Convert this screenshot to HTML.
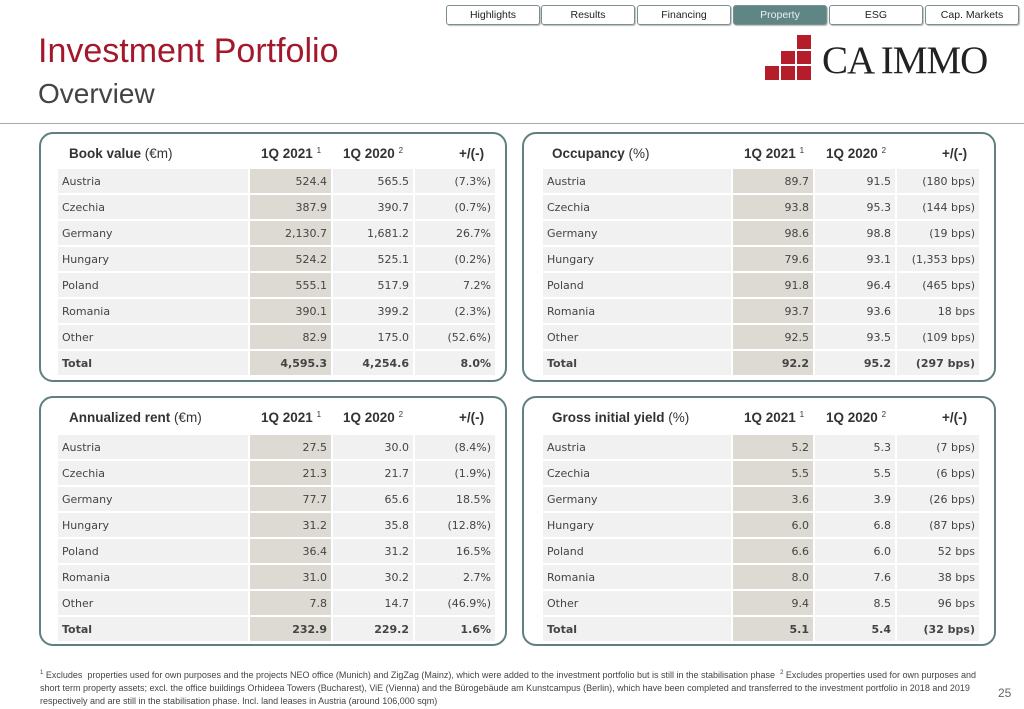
<!DOCTYPE html>
<html><head><meta charset="utf-8"><style>
body{margin:0;width:1024px;height:709px;background:#fff;position:relative;overflow:hidden;font-family:"Liberation Sans",sans-serif;}
.tab{position:absolute;top:5px;height:18px;border:1px solid #7a8f8f;border-radius:3px;font-family:"Liberation Sans Narrow","Liberation Sans",sans-serif;font-size:10.5px;text-align:center;line-height:18px;color:#222;background:#fff;box-shadow:1px 1px 1px #bbb}
.tab.a{background:#5f8585;color:#e8f0f0}
.panel{position:absolute;width:468px;height:250px;border:2px solid #5f8080;border-radius:14px;box-sizing:border-box}
.hd{position:absolute;top:12px;font-size:13.5px;color:#333}
.hd b{font-weight:bold}
.hd sup{font-size:8px;vertical-align:5px}
table{position:absolute;border-spacing:2px;border-collapse:separate}
td{height:24px;padding:0 4px;font-family:"DejaVu Sans",sans-serif;font-size:11px;color:#444;background:#f1f1f1;text-align:right}
td:first-child{text-align:left}
td:nth-child(2){background:#ddd9d3}
tr.t td{font-weight:bold}
</style></head><body>
<div class="tab" style="left:446px;width:92px">Highlights</div>
<div class="tab" style="left:541px;width:92px">Results</div>
<div class="tab" style="left:637px;width:92px">Financing</div>
<div class="tab a" style="left:733px;width:92px">Property</div>
<div class="tab" style="left:829px;width:92px">ESG</div>
<div class="tab" style="left:925px;width:92px">Cap. Markets</div>
<div style="position:absolute;left:38px;top:32px;font-size:34px;color:#a3182a">Investment Portfolio</div>
<div style="position:absolute;left:38px;top:78px;font-size:28px;color:#444">Overview</div>
<svg style="position:absolute;left:765px;top:35px" width="48" height="46">
<g fill="#b51d2b"><rect x="32" y="0" width="14" height="14"/><rect x="32" y="16" width="14" height="13"/><rect x="16" y="16" width="14" height="13"/><rect x="0" y="31" width="14" height="14"/><rect x="16" y="31" width="14" height="14"/><rect x="32" y="31" width="14" height="14"/></g></svg>
<div style="position:absolute;left:822px;top:38px;font-family:'Liberation Serif',serif;font-size:39px;color:#222;letter-spacing:-1px">CA IMMO</div>
<div style="position:absolute;left:0;top:123px;width:1024px;height:1px;background:#aaa"></div>

<div class="panel" style="left:39px;top:132px">
<div class="hd" style="left:28px"><b>Book value</b> (€m)</div>
<div class="hd" style="left:220px"><b>1Q 2021</b> <sup>1</sup></div>
<div class="hd" style="left:302px"><b>1Q 2020</b> <sup>2</sup></div>
<div class="hd" style="left:418px"><b>+/(-)</b></div>
<table style="left:15px;top:33px"><colgroup><col style="width:190px"><col style="width:81px"><col style="width:80px"><col style="width:80px"></colgroup>
<tr><td>Austria</td><td>524.4</td><td>565.5</td><td>(7.3%)</td></tr>
<tr><td>Czechia</td><td>387.9</td><td>390.7</td><td>(0.7%)</td></tr>
<tr><td>Germany</td><td>2,130.7</td><td>1,681.2</td><td>26.7%</td></tr>
<tr><td>Hungary</td><td>524.2</td><td>525.1</td><td>(0.2%)</td></tr>
<tr><td>Poland</td><td>555.1</td><td>517.9</td><td>7.2%</td></tr>
<tr><td>Romania</td><td>390.1</td><td>399.2</td><td>(2.3%)</td></tr>
<tr><td>Other</td><td>82.9</td><td>175.0</td><td>(52.6%)</td></tr>
<tr class="t"><td>Total</td><td>4,595.3</td><td>4,254.6</td><td>8.0%</td></tr>
</table></div>

<div class="panel" style="left:522px;top:132px;width:474px">
<div class="hd" style="left:28px"><b>Occupancy</b> (%)</div>
<div class="hd" style="left:220px"><b>1Q 2021</b> <sup>1</sup></div>
<div class="hd" style="left:302px"><b>1Q 2020</b> <sup>2</sup></div>
<div class="hd" style="left:418px"><b>+/(-)</b></div>
<table style="left:17px;top:33px"><colgroup><col style="width:188px"><col style="width:80px"><col style="width:80px"><col style="width:82px"></colgroup>
<tr><td>Austria</td><td>89.7</td><td>91.5</td><td>(180 bps)</td></tr>
<tr><td>Czechia</td><td>93.8</td><td>95.3</td><td>(144 bps)</td></tr>
<tr><td>Germany</td><td>98.6</td><td>98.8</td><td>(19 bps)</td></tr>
<tr><td>Hungary</td><td>79.6</td><td>93.1</td><td>(1,353 bps)</td></tr>
<tr><td>Poland</td><td>91.8</td><td>96.4</td><td>(465 bps)</td></tr>
<tr><td>Romania</td><td>93.7</td><td>93.6</td><td>18 bps</td></tr>
<tr><td>Other</td><td>92.5</td><td>93.5</td><td>(109 bps)</td></tr>
<tr class="t"><td>Total</td><td>92.2</td><td>95.2</td><td>(297 bps)</td></tr>
</table></div>

<div class="panel" style="left:39px;top:396px">
<div class="hd" style="left:28px"><b>Annualized rent</b> (€m)</div>
<div class="hd" style="left:220px"><b>1Q 2021</b> <sup>1</sup></div>
<div class="hd" style="left:302px"><b>1Q 2020</b> <sup>2</sup></div>
<div class="hd" style="left:418px"><b>+/(-)</b></div>
<table style="left:15px;top:35px"><colgroup><col style="width:190px"><col style="width:81px"><col style="width:80px"><col style="width:80px"></colgroup>
<tr><td>Austria</td><td>27.5</td><td>30.0</td><td>(8.4%)</td></tr>
<tr><td>Czechia</td><td>21.3</td><td>21.7</td><td>(1.9%)</td></tr>
<tr><td>Germany</td><td>77.7</td><td>65.6</td><td>18.5%</td></tr>
<tr><td>Hungary</td><td>31.2</td><td>35.8</td><td>(12.8%)</td></tr>
<tr><td>Poland</td><td>36.4</td><td>31.2</td><td>16.5%</td></tr>
<tr><td>Romania</td><td>31.0</td><td>30.2</td><td>2.7%</td></tr>
<tr><td>Other</td><td>7.8</td><td>14.7</td><td>(46.9%)</td></tr>
<tr class="t"><td>Total</td><td>232.9</td><td>229.2</td><td>1.6%</td></tr>
</table></div>

<div class="panel" style="left:522px;top:396px;width:474px">
<div class="hd" style="left:28px"><b>Gross initial yield</b> (%)</div>
<div class="hd" style="left:220px"><b>1Q 2021</b> <sup>1</sup></div>
<div class="hd" style="left:302px"><b>1Q 2020</b> <sup>2</sup></div>
<div class="hd" style="left:418px"><b>+/(-)</b></div>
<table style="left:17px;top:35px"><colgroup><col style="width:188px"><col style="width:80px"><col style="width:80px"><col style="width:82px"></colgroup>
<tr><td>Austria</td><td>5.2</td><td>5.3</td><td>(7 bps)</td></tr>
<tr><td>Czechia</td><td>5.5</td><td>5.5</td><td>(6 bps)</td></tr>
<tr><td>Germany</td><td>3.6</td><td>3.9</td><td>(26 bps)</td></tr>
<tr><td>Hungary</td><td>6.0</td><td>6.8</td><td>(87 bps)</td></tr>
<tr><td>Poland</td><td>6.6</td><td>6.0</td><td>52 bps</td></tr>
<tr><td>Romania</td><td>8.0</td><td>7.6</td><td>38 bps</td></tr>
<tr><td>Other</td><td>9.4</td><td>8.5</td><td>96 bps</td></tr>
<tr class="t"><td>Total</td><td>5.1</td><td>5.4</td><td>(32 bps)</td></tr>
</table></div>

<div style="position:absolute;left:40px;top:667px;width:940px;font-family:'Liberation Sans Narrow','Liberation Sans',sans-serif;font-size:9px;line-height:13px;color:#444"><sup style="font-size:6px">1</sup> Excludes &nbsp;properties used for own purposes and the projects NEO office (Munich) and ZigZag (Mainz), which were added to the investment portfolio but is still in the stabilisation phase &nbsp;<sup style="font-size:6px">2</sup> Excludes properties used for own purposes and short term property assets; excl. the office buildings Orhideea Towers (Bucharest), ViE (Vienna) and the Bürogebäude am Kunstcampus (Berlin), which have been completed and transferred to the investment portfolio in 2018 and 2019 respectively and are still in the stabilisation phase. Incl. land leases in Austria (around 106,000 sqm)</div>
<div style="position:absolute;left:998px;top:686px;font-size:12px;color:#666">25</div>
</body></html>
